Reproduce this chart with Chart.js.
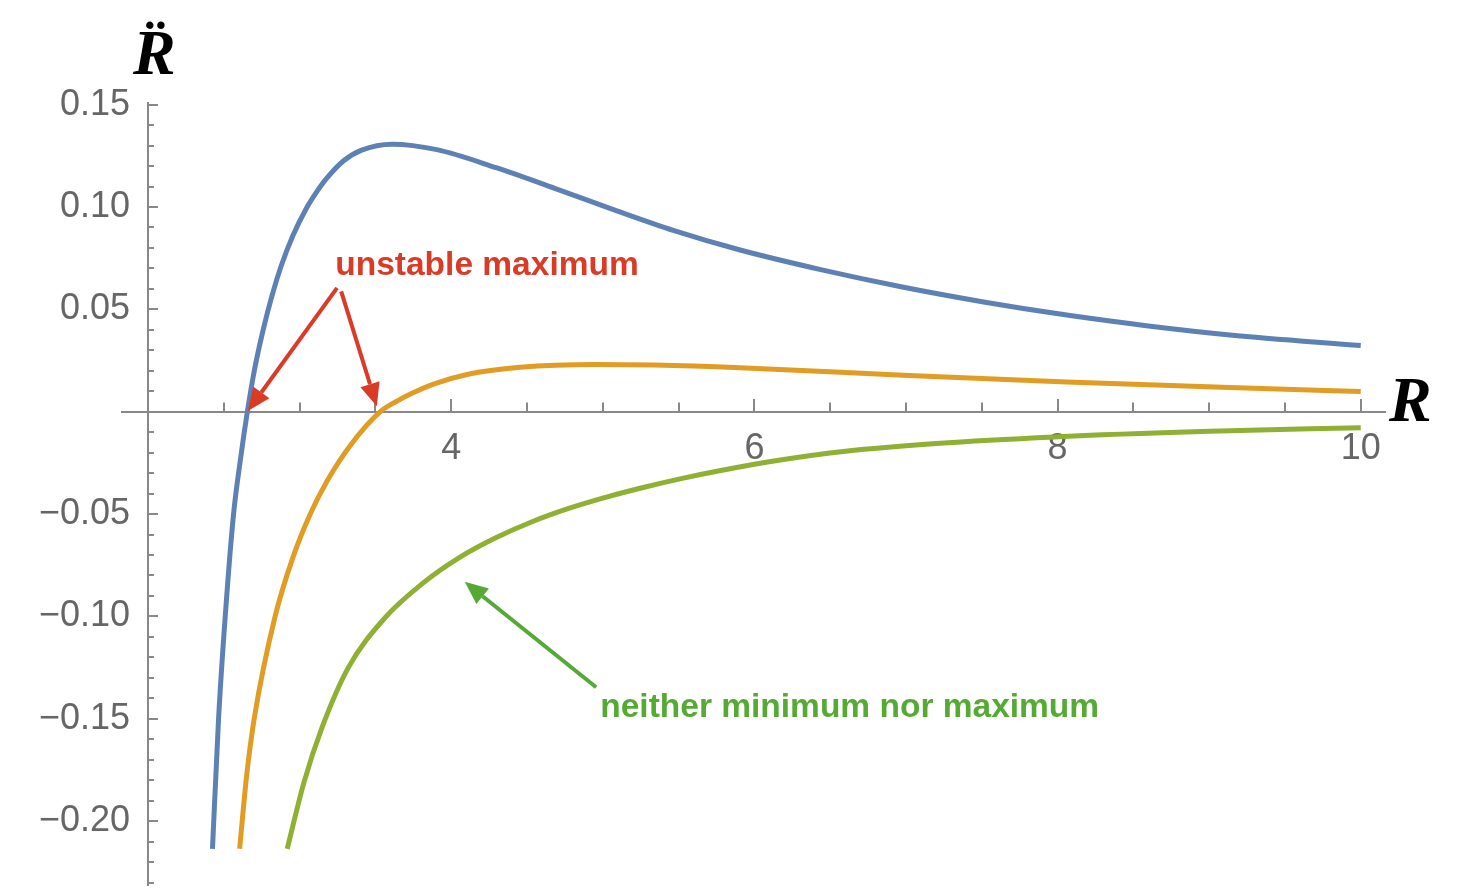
<!DOCTYPE html>
<html>
<head>
<meta charset="utf-8">
<script src="https://cdn.jsdelivr.net/npm/chart.js@4.4.1/dist/chart.umd.min.js"></script>
<style>
  html, body { margin: 0; padding: 0; background: #fff; }
</style>
</head>
<body>
<canvas id="plot" width="1464" height="890"></canvas>
<script>
// values: R along x, R-double-dot along y
const blueR = [2.425, 2.465, 2.509, 2.564, 2.610, 2.655, 2.700, 2.760, 2.820, 2.879, 2.955, 3.044, 3.110, 3.175, 3.292, 3.409, 3.611, 3.905, 4.296, 4.687, 5.079, 5.470, 5.906, 6.445, 6.984, 7.522, 8.060, 8.599, 9.137, 10.0]
const blueVals = [-0.2135, -0.1500, -0.1000, -0.0500, -0.0230, 0, 0.0197, 0.0402, 0.0573, 0.0714, 0.0860, 0.0993, 0.1071, 0.1137, 0.1227, 0.1278, 0.1307, 0.1280, 0.1192, 0.1090, 0.0985, 0.0885, 0.0790, 0.0693, 0.0608, 0.0535, 0.0472, 0.0419, 0.0375, 0.0323]

const orangeR = [2.604, 2.650, 2.700, 2.838, 2.954, 3.070, 3.180, 3.334, 3.532, 3.642, 3.741, 3.883, 4.104, 4.455, 4.948, 5.339, 5.906, 6.981, 8.060, 9.137, 10.0]
const orangeVals = [-0.2135, -0.1780, -0.1500, -0.1000, -0.0715, -0.0500, -0.0340, -0.0165, 0, 0.0052, 0.0090, 0.0135, 0.0182, 0.0217, 0.0231, 0.0228, 0.0215, 0.0178, 0.0145, 0.0118, 0.0099]

const greenR = [2.918, 3.028, 3.149, 3.321, 3.565, 3.809, 4.053, 4.297, 4.541, 4.785, 5.029, 5.273, 5.517, 5.761, 6.170, 6.600, 7.199, 7.978, 9.003, 10.0]
const greenVals = [-0.2135, -0.1812, -0.1540, -0.1250, -0.1005, -0.0840, -0.0713, -0.0615, -0.0535, -0.0470, -0.0416, -0.0369, -0.0327, -0.0290, -0.0236, -0.0193, -0.0155, -0.0123, -0.0096, -0.0078]

const xTickValues = [4, 6, 8, 10]
const yTickValues = [-0.20, -0.15, -0.10, -0.05, 0.05, 0.10, 0.15]
const xMinorStep = 0.5
const yMinorStep = 0.01

const AXIS_GREY = '#888888'
const LABEL_GREY = '#666666'
const RED = '#da3b27'
const GREEN = '#55aa33'

// callouts, placed in data units
const notes = [
    {text: 'unstable maximum', at: [3.235, 0.0670], color: RED},
    {text: 'neither minimum nor maximum', at: [4.983, -0.1493], color: GREEN}
]
const arrows = [
    {from: [3.247, 0.0605], to: [2.658, 0.0003], color: RED},
    {from: [3.274, 0.0588], to: [3.509, 0.0027], color: RED},
    {from: [4.956, -0.1346], to: [4.089, -0.0831], color: GREEN}
]

function toPoints(xs, ys) {
    return xs.map((x, i) => ({x: x, y: ys[i]}))
}

function zeroPadding(scale) {
    scale.paddingLeft = 0
    scale.paddingRight = 0
    scale.paddingTop = 0
    scale.paddingBottom = 0
}

function curve(xs, ys, color) {
    return {
        data: toPoints(xs, ys),
        borderColor: color,
        borderWidth: 5,
        pointRadius: 0,
        cubicInterpolationMode: 'monotone',
        borderCapStyle: 'butt'
    }
}

function drawArrow(ctx, x1, y1, x2, y2) {
    const ang = Math.atan2(y2 - y1, x2 - x1)
    const headLen = 23, headHalf = 10
    const bx = x2 - headLen * Math.cos(ang), by = y2 - headLen * Math.sin(ang)
    ctx.lineWidth = 4
    ctx.beginPath()
    ctx.moveTo(x1, y1)
    ctx.lineTo(bx, by)
    ctx.stroke()
    ctx.beginPath()
    ctx.moveTo(x2, y2)
    ctx.lineTo(bx + headHalf * Math.sin(ang), by - headHalf * Math.cos(ang))
    ctx.lineTo(bx - headHalf * Math.sin(ang), by + headHalf * Math.cos(ang))
    ctx.closePath()
    ctx.fill()
}

// Mathematica style ticks: x ticks point up, y ticks point right
const axisTicks = {
    id: 'axisTicks',
    beforeDatasetsDraw(chart) {
        const {ctx, scales: {x, y}} = chart
        const x0 = Math.round(x.getPixelForValue(2))
        const y0 = Math.round(y.getPixelForValue(0))
        ctx.save()
        ctx.strokeStyle = AXIS_GREY
        ctx.lineWidth = 2
        ctx.beginPath()
        for (let k = 5; k <= 20; k++) {
            const v = k * xMinorStep
            const px = Math.round(x.getPixelForValue(v))
            const len = xTickValues.includes(v) ? 13 : 9.5
            ctx.moveTo(px, y0)
            ctx.lineTo(px, y0 - len)
        }
        for (let k = -23; k <= 15; k++) {
            if (k === 0) continue
            const py = Math.round(y.getPixelForValue(k * yMinorStep))
            const len = k % 5 === 0 ? 10 : 6
            ctx.moveTo(x0, py)
            ctx.lineTo(x0 + len, py)
        }
        ctx.stroke()
        ctx.restore()
    }
}

const callouts = {
    id: 'callouts',
    afterDatasetsDraw(chart) {
        const {ctx, scales: {x, y}} = chart
        ctx.save()
        ctx.font = 'bold 33.5px "Liberation Sans"'
        ctx.textAlign = 'left'
        ctx.textBaseline = 'alphabetic'
        notes.forEach(n => {
            ctx.fillStyle = n.color
            ctx.fillText(n.text, x.getPixelForValue(n.at[0]), y.getPixelForValue(n.at[1]))
        })
        arrows.forEach(a => {
            ctx.strokeStyle = a.color
            ctx.fillStyle = a.color
            drawArrow(ctx,
                x.getPixelForValue(a.from[0]), y.getPixelForValue(a.from[1]),
                x.getPixelForValue(a.to[0]), y.getPixelForValue(a.to[1]))
        })
        // axis names
        ctx.fillStyle = '#000'
        ctx.font = 'italic bold 64px "Liberation Serif"'
        ctx.fillText('R', x.getPixelForValue(10.187), y.getPixelForValue(-0.0046))
        ctx.fillText('R\u0308', x.getPixelForValue(1.90), y.getPixelForValue(0.165))
        ctx.restore()
    }
}

const tickFont = {family: '"Liberation Sans", Arial, sans-serif', size: 36}

new Chart(document.getElementById('plot'), {
    type: 'line',
    data: {
        datasets: [
            curve(blueR, blueVals, '#5e81b5'),
            curve(orangeR, orangeVals, '#e19c24'),
            curve(greenR, greenVals, '#8fb032')
        ]
    },
    options: {
        responsive: false,
        animation: false,
        layout: {padding: {left: 122, right: 79, top: 103, bottom: 5}},
        plugins: {legend: {display: false}, tooltip: {enabled: false}},
        scales: {
            x: {
                type: 'linear',
                min: 1.828,
                max: 10.16,
                position: {y: 0},
                grid: {display: false},
                border: {color: AXIS_GREY, width: 2},
                afterBuildTicks: s => { s.ticks = xTickValues.map(v => ({value: v})) },
                afterFit: zeroPadding,
                ticks: {
                    color: LABEL_GREY,
                    font: tickFont,
                    padding: 8,
                    maxRotation: 0,
                    autoSkip: false,
                    callback: v => String(v)
                }
            },
            y: {
                type: 'linear',
                min: -0.2312,
                max: 0.1508,
                position: {x: 2},
                grid: {display: false},
                border: {color: AXIS_GREY, width: 2},
                afterBuildTicks: s => { s.ticks = yTickValues.map(v => ({value: v})) },
                afterFit: zeroPadding,
                ticks: {
                    color: LABEL_GREY,
                    font: tickFont,
                    autoSkip: false,
                    // labels sit right-aligned on the axis line, the en space keeps them off it
                    callback: v => v.toFixed(2).replace('-', '\u2212') + '\u2002'
                }
            }
        }
    },
    plugins: [axisTicks, callouts]
})
</script>
</body>
</html>
